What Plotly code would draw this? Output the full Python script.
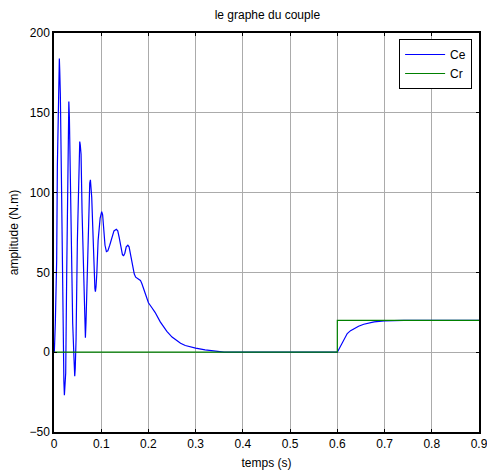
import plotly.graph_objects as go

# Electromagnetic torque Ce (N.m) versus time (s)
t_ce = [0.0, 0.0007, 0.0028, 0.0045, 0.0057, 0.0071, 0.0092, 0.0103, 0.0113, 0.0122,
        0.0134, 0.0156, 0.0177, 0.0198, 0.0209, 0.0220, 0.0232, 0.0248, 0.0269, 0.0290,
        0.0298, 0.0305, 0.0314, 0.0326, 0.0347, 0.0368, 0.0396, 0.0425, 0.0439, 0.0450,
        0.0467, 0.0495, 0.0524, 0.0536, 0.0545, 0.0556, 0.0573, 0.0595, 0.0623, 0.0651,
        0.0665, 0.0677, 0.0694, 0.0722, 0.0757, 0.0771, 0.0785, 0.0799, 0.0820, 0.0849,
        0.0866, 0.0877, 0.0890, 0.0906, 0.0934, 0.0977, 0.1000, 0.1010, 0.1030, 0.1047,
        0.1065, 0.1080, 0.1110, 0.1140, 0.1180, 0.1225, 0.1270, 0.1320, 0.1350, 0.1380,
        0.1420, 0.1450, 0.1475, 0.1500, 0.1530, 0.1564, 0.1590, 0.1620, 0.1660, 0.1700,
        0.1730, 0.1790, 0.1830, 0.1860, 0.1930, 0.2000, 0.2070, 0.2140, 0.2250, 0.2390,
        0.2500, 0.2570, 0.2680, 0.2780, 0.2900, 0.3000, 0.3200, 0.3420, 0.3560, 0.3600,
        0.6000, 0.6050, 0.6110, 0.6160, 0.6210, 0.6280, 0.6350, 0.6450, 0.6560, 0.6670,
        0.6780, 0.6990, 0.7200, 0.7410, 0.9000]
ce = [0, 0, 18, 40, 58, 116, 166, 179, 184, 176,
      162, 112, 49, -3, -18, -27, -22, -13, 49, 112,
      140, 155, 157, 147, 112, 60, 18, -5, -15, -10,
      8, 70, 122, 130, 132, 130, 124, 87, 49, 14,
      9, 18, 39, 81, 106, 108, 104, 97, 79, 49,
      40, 38, 41, 49, 70, 84, 87, 88, 86, 80,
      72, 67, 63, 63.5, 67, 72, 76, 77, 76, 72,
      65, 61, 60.5, 62, 66, 67, 66, 61, 55, 49,
      47, 46, 45, 43, 37, 31, 28, 25, 19, 13,
      9.5, 7.8, 5.6, 4.2, 3.2, 2.6, 1.5, 0.8, 0.5, 0,
      0, 3, 6.5, 9.4, 11.7, 13.5, 14.8, 16.3, 17.5, 18.4,
      19, 19.6, 19.9, 20, 20]

# Load torque Cr (N.m): step applied at t = 0.6 s
t_cr = [0.0, 0.6, 0.6, 0.9]
cr = [0, 0, 20, 20]

x_ticks = [0, 0.1, 0.2, 0.3, 0.4, 0.5, 0.6, 0.7, 0.8, 0.9]
x_tick_text = ["0", "0.1", "0.2", "0.3", "0.4", "0.5", "0.6", "0.7", "0.8", "0.9"]
y_ticks = [-50, 0, 50, 100, 150, 200]

FONT = "Liberation Sans, Arial, sans-serif"

fig = go.Figure()
fig.add_trace(go.Scatter(x=t_ce, y=ce, mode="lines", name="Ce",
                         line=dict(color="#0000FF", width=1.2)))
fig.add_trace(go.Scatter(x=t_cr, y=cr, mode="lines", name="Cr",
                         line=dict(color="#008000", width=1.2)))

axis_common = dict(
    showline=True, linecolor="black", linewidth=1.5, mirror="allticks",
    ticks="inside", ticklen=3, tickcolor="black", tickwidth=1,
    showgrid=True, gridcolor="#ababab", gridwidth=1,
    zeroline=False, automargin=False, ticklabeloverflow="allow",
    tickfont=dict(family=FONT, size=12, color="black"),
)

fig.update_xaxes(range=[0, 0.9], tickvals=x_ticks, ticktext=x_tick_text,
                 title=dict(text="temps (s)", font=dict(family=FONT, size=12, color="black"),
                            standoff=8),
                 **axis_common)
fig.update_yaxes(range=[-50, 200], tickvals=y_ticks,
                 title=dict(text="amplitude (N.m)", font=dict(family=FONT, size=12, color="black"),
                            standoff=8),
                 **axis_common)

fig.update_layout(
    width=487, height=475,
    margin=dict(l=54, r=8, t=33, b=43),
    paper_bgcolor="white", plot_bgcolor="white",
    title=dict(text="le graphe du couple", x=0.549, xanchor="center", y=0.968, yanchor="middle",
               font=dict(family=FONT, size=12, color="black")),
    font=dict(family=FONT, size=12, color="black"),
    legend=dict(x=0.812, y=0.985, xanchor="left", yanchor="top",
                bgcolor="white", bordercolor="black", borderwidth=1,
                font=dict(family=FONT, size=12, color="black"),
                itemwidth=40, tracegroupgap=0),
    showlegend=True,
)

fig.write_html("out.html")
